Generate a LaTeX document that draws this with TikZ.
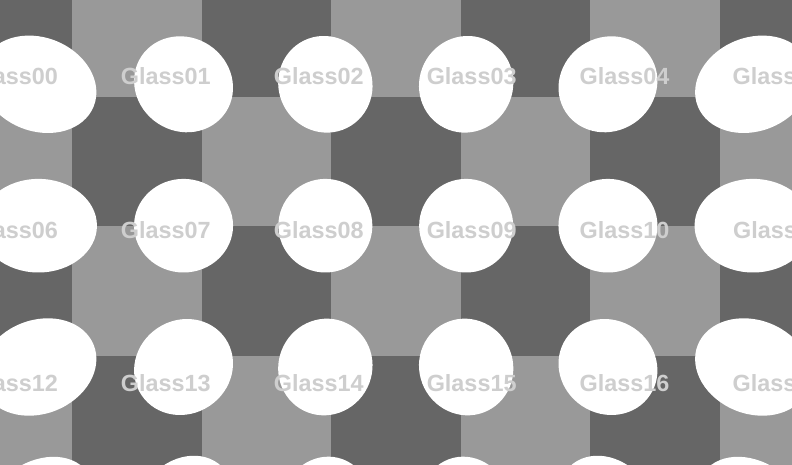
\documentclass[tikz,border=0pt]{standalone}
\usepackage{fontspec}
\setmainfont{Liberation Sans}
\definecolor{darksq}{RGB}{102,102,102}
\definecolor{lightsq}{RGB}{153,153,153}
\definecolor{labelgray}{RGB}{206,206,206}
\tikzset{
  lbl/.style={text=labelgray, inner sep=0pt, anchor=base, font=\fontsize{23.4}{28}\selectfont\bfseries},
  blob/.style={fill=white}
}
\begin{document}
\begin{tikzpicture}[x=1pt,y=1pt]
\useasboundingbox (0,0) rectangle (792,465);
\begin{scope}
\clip (0,0) rectangle (792,465);
\fill[lightsq] (0,0) rectangle (792,465);
\foreach \i in {0,...,6}{\foreach \j in {0,...,3}{
  \pgfmathtruncatemacro\p{mod(\i+\j,2)}
  \ifnum\p=0
    \pgfmathsetmacro\xa{-57.55+129.55*\i}
    \pgfmathsetmacro\ya{465+32.8-129.5*\j}
    \fill[darksq] (\xa,\ya) rectangle ++(129.55,-129.5);
  \fi
}}
% blobs: centre x / centre y / tilt / radial half-axis
\foreach \X/\Y/\A/\R in {
  38.45/380.7/-21.6/59.5, 183.55/380.7/-33.7/50.6, 325.35/380.7/-63.5/48.7,
  466.15/380.7/63.5/48.7, 607.95/380.7/33.7/50.6, 753.05/380.7/21.6/59.5,
  38.45/239.3/0/58.5, 183.55/239.3/0/49.5, 325.35/239.3/0/47,
  466.15/239.3/0/47, 607.95/239.3/0/49.5, 753.05/239.3/0/58.5,
  38.45/98/21.6/59.5, 183.55/98/33.7/50.6, 325.35/98/63.5/48.7,
  466.15/98/-63.5/48.7, 607.95/98/-33.7/50.6, 753.05/98/-21.6/59.5,
  38.45/-45/38.5/62, 183.55/-45/53.3/58, 325.35/-45/76.1/53.7,
  466.15/-45/-76.1/53.7, 607.95/-45/-53.3/58, 753.05/-45/-38.5/62}{
  \fill[blob, rotate around={\A:(\X,\Y)}] (\X,\Y) ellipse [x radius=\R, y radius=46.8];
}
% labels
\foreach \n/\X/\Y in {
  00/12.95/380, 01/165.85/380, 02/318.75/380, 03/471.65/380, 04/624.55/380, 05/777.45/380,
  06/12.95/226.7, 07/165.85/226.7, 08/318.75/226.7, 09/471.65/226.7, 10/624.55/226.7, 11/777.45/226.7,
  12/12.95/73.4, 13/165.85/73.4, 14/318.75/73.4, 15/471.65/73.4, 16/624.55/73.4, 17/777.45/73.4}{
  \node[lbl] (g\n) at (\X,\Y) {Glass\n};
}
\end{scope}
\end{tikzpicture}
\end{document}
